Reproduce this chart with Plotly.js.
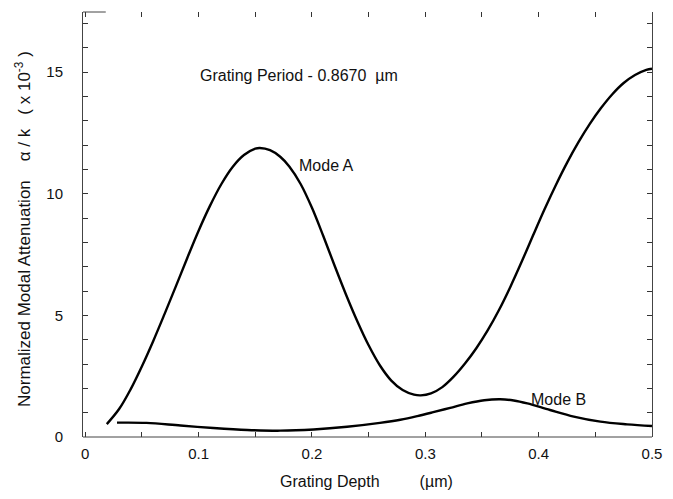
<!DOCTYPE html>
<html>
<head>
<meta charset="utf-8">
<script src="https://cdn.plot.ly/plotly-3.0.1.min.js"></script>
<style>html,body{margin:0;padding:0;background:#fff}#chart{width:673px;height:499px}</style>
</head>
<body>
<div id="chart"></div>
<script>
// Grating depth (µm) and normalized modal attenuation (x 10^-3)
var modeA_depth = [0.019, 0.030, 0.040, 0.050, 0.060, 0.070, 0.080, 0.090, 0.100, 0.110, 0.120, 0.130, 0.140, 0.150, 0.154,
                   0.163, 0.172, 0.180, 0.190, 0.200, 0.210, 0.220, 0.230, 0.240, 0.250, 0.260, 0.270, 0.280, 0.290, 0.296,
                   0.305, 0.315, 0.325, 0.335, 0.345, 0.355, 0.365, 0.375, 0.385, 0.395, 0.405, 0.415, 0.425, 0.435, 0.445,
                   0.455, 0.465, 0.475, 0.485, 0.495, 0.500];
var modeA_atten = [0.53, 1.16, 1.96, 2.91, 3.95, 5.06, 6.20, 7.36, 8.48, 9.50, 10.39, 11.10, 11.59, 11.85, 11.88,
                   11.79, 11.52, 11.12, 10.40, 9.42, 8.26, 7.04, 5.86, 4.76, 3.77, 2.94, 2.32, 1.93, 1.74, 1.71,
                   1.79, 2.05, 2.48, 3.02, 3.65, 4.38, 5.22, 6.17, 7.20, 8.28, 9.34, 10.34, 11.27, 12.11, 12.86,
                   13.52, 14.09, 14.55, 14.88, 15.09, 15.14];

var modeB_depth = [0.028, 0.054, 0.084, 0.113, 0.143, 0.172, 0.2015, 0.231, 0.260, 0.278, 0.293, 0.307, 0.322, 0.337, 0.352, 0.366, 0.378, 0.390, 0.410, 0.431, 0.4545, 0.478, 0.500];
var modeB_atten = [0.59, 0.58, 0.47, 0.37, 0.29, 0.26, 0.31, 0.42, 0.58, 0.71, 0.86, 1.02, 1.20, 1.38, 1.51, 1.55, 1.50, 1.38, 1.11, 0.84, 0.63, 0.52, 0.45];

var xTickVals = [0, 0.1, 0.2, 0.3, 0.4, 0.5];
var xTickText = ["0", "0.1", "0.2", "0.3", "0.4", "0.5"];
var yTickVals = [0, 5, 10, 15];
var yTickText = ["0", "5", "10", "15"];

var FONT = "Liberation Sans, Arial, Helvetica, sans-serif";
var NB = "\u00A0";

var lineStyle = {color: "#000", width: 2.4, shape: "spline", smoothing: 1};

var traces = [
  {x: modeA_depth, y: modeA_atten, mode: "lines", line: lineStyle, name: "Mode A", hoverinfo: "skip"},
  {x: modeB_depth, y: modeB_atten, mode: "lines", line: lineStyle, name: "Mode B", hoverinfo: "skip"}
];

var layout = {
  width: 673, height: 499,
  margin: {l: 83, r: 21, t: 12, b: 62},
  paper_bgcolor: "#fff", plot_bgcolor: "#fff",
  showlegend: false,
  font: {family: FONT, size: 15, color: "#111"},
  xaxis: {
    range: [-0.002, 0.5],
    tickmode: "array", tickvals: xTickVals, ticktext: xTickText,
    ticks: "inside", ticklen: 5, tickcolor: "#333", tickwidth: 1,
    minor: {dtick: 0.05, tick0: 0, ticks: "inside", ticklen: 5, tickcolor: "#333", tickwidth: 1, showgrid: false},
    showline: false, mirror: "ticks",
    showgrid: false, zeroline: false,
    ticklabelstandoff: 6,
    tickfont: {family: FONT, size: 15, color: "#111"}
  },
  yaxis: {
    range: [0, 17.47],
    tickmode: "array", tickvals: yTickVals, ticktext: yTickText,
    ticks: "inside", ticklen: 5, tickcolor: "#333", tickwidth: 1,
    minor: {dtick: 1, tick0: 0, ticks: "inside", ticklen: 5, tickcolor: "#333", tickwidth: 1, showgrid: false},
    showline: true, linecolor: "#444", linewidth: 1, mirror: "ticks",
    showgrid: false, zeroline: false,
    ticklabelstandoff: 16,
    tickfont: {family: FONT, size: 15, color: "#111"}
  },
  shapes: [
    {type: "line", xref: "paper", yref: "paper", x0: 0, x1: 1, y0: 0, y1: 0, line: {color: "#444", width: 1}},
    {type: "line", xref: "paper", yref: "paper", x0: 0, x1: 0.04, y0: 1, y1: 1, line: {color: "#444", width: 1}}
  ],
  annotations: [
    {text: "Grating Period - 0.8670" + NB + NB + "\u00B5m", xref: "x", yref: "y", x: 0.1887, y: 14.86,
     xanchor: "center", yanchor: "middle", showarrow: false, font: {family: FONT, size: 16, color: "#111"}},
    {text: "Mode A", xref: "x", yref: "y", x: 0.1872, y: 11.14,
     xanchor: "left", yanchor: "middle", showarrow: false, font: {family: FONT, size: 16, color: "#111"}},
    {text: "Mode B", xref: "x", yref: "y", x: 0.3918, y: 1.56,
     xanchor: "left", yanchor: "middle", showarrow: false, font: {family: FONT, size: 16, color: "#111"}},
    {text: "Grating Depth" + NB + NB + NB + NB + NB + NB + NB + NB + NB + "(\u00B5m)", xref: "paper", yref: "paper",
     x: (366 - 83) / 569, y: 0, yshift: -44, xanchor: "center", yanchor: "middle", showarrow: false,
     font: {family: FONT, size: 16, color: "#111"}},
    {text: "Normalized Modal Attenuation" + NB + NB + NB + NB + "\u03B1 / k" + NB + NB + NB + "(" + NB + "x 10<sup>-3</sup>" + NB + ")",
     xref: "paper", yref: "paper", x: 0, xshift: -60, y: (437 - 229) / 425,
     xanchor: "center", yanchor: "middle", textangle: -90, showarrow: false,
     font: {family: FONT, size: 17, color: "#111"}}
  ]
};

Plotly.newPlot("chart", traces, layout, {staticPlot: true, displayModeBar: false});
</script>
</body>
</html>
